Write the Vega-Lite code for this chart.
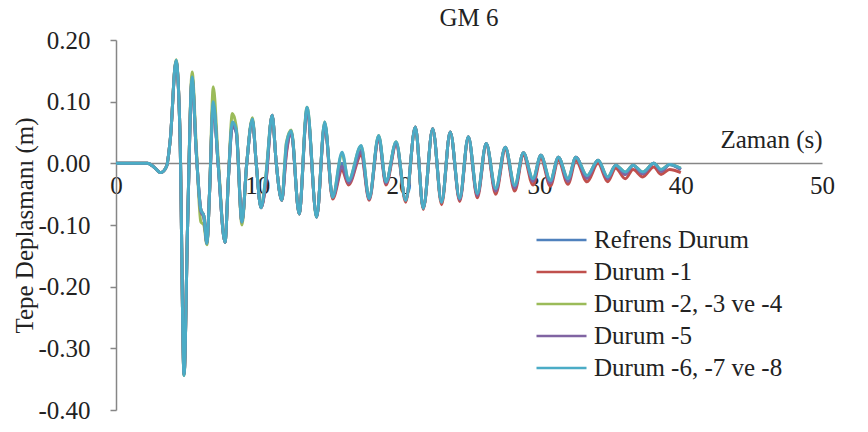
{
  "$schema": "https://vega.github.io/schema/vega-lite/v6.json",
  "width": 706,
  "height": 370,
  "autosize": {"type": "none"},
  "padding": {"left": 116, "top": 40, "right": 46, "bottom": 22},
  "background": "white",
  "config": {"view": {"stroke": null}, "font": "Liberation Serif"},
  "title": {"text": "GM 6", "fontSize": 25, "font": "Liberation Serif", "fontWeight": "normal", "color": "#222222", "offset": -3, "frame": "group"},
  "data": {"values": [
    {"t":0,"a":0,"b":0,"c":0,"d":0,"e":0},
    {"t":1.15,"a":0,"b":0,"c":0,"d":0,"e":0},
    {"t":2.23,"a":0,"b":0,"c":0,"d":0,"e":0},
    {"t":2.64,"a":-0.005,"b":-0.005,"c":-0.005,"d":-0.005,"e":-0.005},
    {"t":3.18,"a":-0.015,"b":-0.015,"c":-0.015,"d":-0.015,"e":-0.015},
    {"t":3.58,"a":-0.005,"b":-0.005,"c":-0.005,"d":-0.005,"e":-0.005},
    {"t":3.85,"a":0.04,"b":0.04,"c":0.04,"d":0.04,"e":0.04},
    {"t":4.25,"a":0.165,"b":0.166,"c":0.168,"d":0.165,"e":0.167},
    {"t":4.53,"a":0.05,"b":0.05,"c":0.05,"d":0.05,"e":0.05},
    {"t":4.82,"a":-0.342,"b":-0.343,"c":-0.344,"d":-0.342,"e":-0.344},
    {"t":5.07,"a":-0.1,"b":-0.1,"c":-0.1,"d":-0.1,"e":-0.1},
    {"t":5.39,"a":0.138,"b":0.14,"c":0.148,"d":0.136,"e":0.14},
    {"t":5.68,"a":0.02,"b":0.02,"c":0.03,"d":0.02,"e":0.02},
    {"t":6.01,"a":-0.075,"b":-0.075,"c":-0.095,"d":-0.078,"e":-0.075},
    {"t":6.22,"a":-0.085,"b":-0.085,"c":-0.1,"d":-0.088,"e":-0.085},
    {"t":6.44,"a":-0.13,"b":-0.13,"c":-0.132,"d":-0.13,"e":-0.13},
    {"t":6.62,"a":-0.05,"b":-0.05,"c":-0.05,"d":-0.05,"e":-0.05},
    {"t":6.89,"a":0.097,"b":0.1,"c":0.124,"d":0.095,"e":0.1},
    {"t":7.23,"a":0,"b":0,"c":0.01,"d":0,"e":0},
    {"t":7.72,"a":-0.128,"b":-0.128,"c":-0.128,"d":-0.128,"e":-0.128},
    {"t":7.97,"a":-0.02,"b":-0.02,"c":-0.02,"d":-0.02,"e":-0.02},
    {"t":8.24,"a":0.06,"b":0.065,"c":0.081,"d":0.06,"e":0.067},
    {"t":8.51,"a":0.052,"b":0.055,"c":0.06,"d":0.05,"e":0.055},
    {"t":8.92,"a":-0.095,"b":-0.095,"c":-0.1,"d":-0.095,"e":-0.095},
    {"t":9.26,"a":0,"b":0,"c":0,"d":0,"e":0},
    {"t":9.66,"a":0.07,"b":0.07,"c":0.074,"d":0.07,"e":0.072},
    {"t":9.93,"a":0,"b":0,"c":0,"d":0,"e":0},
    {"t":10.27,"a":-0.072,"b":-0.072,"c":-0.072,"d":-0.072,"e":-0.072},
    {"t":10.61,"a":-0.028,"b":-0.033,"c":-0.02,"d":-0.03,"e":-0.022},
    {"t":11.06,"a":0.078,"b":0.078,"c":0.078,"d":0.078,"e":0.078},
    {"t":11.35,"a":0,"b":0,"c":0,"d":0,"e":0},
    {"t":11.74,"a":-0.06,"b":-0.06,"c":-0.06,"d":-0.06,"e":-0.06},
    {"t":12.07,"a":0.025,"b":0.016,"c":0.034,"d":0.02,"e":0.032},
    {"t":12.41,"a":0.052,"b":0.05,"c":0.054,"d":0.05,"e":0.053},
    {"t":12.97,"a":-0.082,"b":-0.082,"c":-0.082,"d":-0.082,"e":-0.082},
    {"t":13.53,"a":0.088,"b":0.085,"c":0.091,"d":0.085,"e":0.091},
    {"t":14.21,"a":-0.087,"b":-0.087,"c":-0.087,"d":-0.087,"e":-0.087},
    {"t":14.78,"a":0.065,"b":0.062,"c":0.067,"d":0.063,"e":0.067},
    {"t":15.34,"a":-0.055,"b":-0.058,"c":-0.055,"d":-0.055,"e":-0.055},
    {"t":16.01,"a":0,"b":-0.011,"c":0.015,"d":-0.005,"e":0.018},
    {"t":16.47,"a":-0.03,"b":-0.035,"c":-0.028,"d":-0.032,"e":-0.028},
    {"t":17.36,"a":0.022,"b":0.013,"c":0.028,"d":0.018,"e":0.029},
    {"t":17.93,"a":-0.057,"b":-0.06,"c":-0.057,"d":-0.058,"e":-0.057},
    {"t":18.60,"a":0.043,"b":0.04,"c":0.045,"d":0.042,"e":0.045},
    {"t":19.12,"a":-0.031,"b":-0.035,"c":-0.03,"d":-0.032,"e":-0.03},
    {"t":19.84,"a":0.033,"b":0.03,"c":0.035,"d":0.032,"e":0.035},
    {"t":20.52,"a":-0.06,"b":-0.063,"c":-0.06,"d":-0.06,"e":-0.06},
    {"t":21.20,"a":0.059,"b":0.059,"c":0.059,"d":0.059,"e":0.059},
    {"t":21.76,"a":-0.073,"b":-0.075,"c":-0.073,"d":-0.073,"e":-0.073},
    {"t":22.43,"a":0.056,"b":0.056,"c":0.056,"d":0.056,"e":0.056},
    {"t":23.06,"a":-0.063,"b":-0.067,"c":-0.063,"d":-0.063,"e":-0.063},
    {"t":23.67,"a":0.051,"b":0.051,"c":0.051,"d":0.051,"e":0.051},
    {"t":24.34,"a":-0.059,"b":-0.062,"c":-0.057,"d":-0.059,"e":-0.057},
    {"t":24.95,"a":0.043,"b":0.041,"c":0.043,"d":0.043,"e":0.043},
    {"t":25.59,"a":-0.052,"b":-0.056,"c":-0.049,"d":-0.052,"e":-0.049},
    {"t":26.22,"a":0.032,"b":0.03,"c":0.032,"d":0.032,"e":0.032},
    {"t":26.89,"a":-0.045,"b":-0.05,"c":-0.041,"d":-0.045,"e":-0.041},
    {"t":27.57,"a":0.026,"b":0.022,"c":0.026,"d":0.026,"e":0.026},
    {"t":28.24,"a":-0.04,"b":-0.045,"c":-0.036,"d":-0.04,"e":-0.036},
    {"t":28.85,"a":0.017,"b":0.013,"c":0.017,"d":0.017,"e":0.017},
    {"t":29.53,"a":-0.029,"b":-0.035,"c":-0.025,"d":-0.029,"e":-0.025},
    {"t":30.09,"a":0.013,"b":0.008,"c":0.013,"d":0.013,"e":0.013},
    {"t":30.76,"a":-0.032,"b":-0.037,"c":-0.028,"d":-0.032,"e":-0.028},
    {"t":31.33,"a":0.01,"b":0.005,"c":0.01,"d":0.01,"e":0.01},
    {"t":32.01,"a":-0.029,"b":-0.034,"c":-0.025,"d":-0.029,"e":-0.025},
    {"t":32.57,"a":0.01,"b":0.004,"c":0.01,"d":0.01,"e":0.01},
    {"t":33.36,"a":-0.024,"b":-0.03,"c":-0.02,"d":-0.024,"e":-0.02},
    {"t":34.14,"a":0.005,"b":0,"c":0.005,"d":0.005,"e":0.005},
    {"t":34.82,"a":-0.025,"b":-0.03,"c":-0.022,"d":-0.025,"e":-0.022},
    {"t":35.39,"a":-0.003,"b":-0.008,"c":-0.003,"d":-0.003,"e":-0.003},
    {"t":36.07,"a":-0.018,"b":-0.025,"c":-0.014,"d":-0.018,"e":-0.014},
    {"t":36.62,"a":-0.003,"b":-0.01,"c":-0.003,"d":-0.003,"e":-0.003},
    {"t":37.30,"a":-0.017,"b":-0.022,"c":-0.014,"d":-0.017,"e":-0.014},
    {"t":38.09,"a":0,"b":-0.006,"c":0,"d":0,"e":0},
    {"t":38.6,"a":-0.013,"b":-0.018,"c":-0.01,"d":-0.013,"e":-0.01},
    {"t":39.2,"a":-0.002,"b":-0.01,"c":-0.002,"d":-0.002,"e":-0.002},
    {"t":40.0,"a":-0.01,"b":-0.015,"c":-0.008,"d":-0.01,"e":-0.008}
  ]},
  "transform": [{"fold": ["a", "b", "c", "d", "e"], "as": ["s", "v"]}],
  "mark": {"type": "line", "interpolate": "monotone", "strokeWidth": 3},
  "encoding": {
    "x": {
      "field": "t", "type": "quantitative",
      "scale": {"domain": [0, 50], "nice": false, "zero": false},
      "axis": {
        "values": [0, 10, 20, 30, 40, 50],
        "offset": -247,
        "domainColor": "#868686", "domainWidth": 1.5,
        "ticks": false, "grid": false,
        "labelFont": "Liberation Serif", "labelFontSize": 25, "labelColor": "#222222",
        "labelPadding": 10, "labelFlush": false, "labelOverlap": false,
        "title": "Zaman (s)",
        "titleFont": "Liberation Serif", "titleFontSize": 25, "titleFontWeight": "normal", "titleColor": "#222222",
        "titleX": 655, "titleY": -16, "titleAlign": "center", "titleBaseline": "alphabetic"
      }
    },
    "y": {
      "field": "v", "type": "quantitative",
      "scale": {"domain": [-0.4, 0.2], "nice": false},
      "axis": {
        "values": [-0.4, -0.3, -0.2, -0.1, 0, 0.1, 0.2],
        "labelExpr": "replace(format(datum.value, '.2f'), '\u2212', '-')",
        "domainColor": "#868686", "domainWidth": 1.5,
        "tickColor": "#868686", "tickSize": 6, "tickWidth": 1.5,
        "grid": false,
        "labelFont": "Liberation Serif", "labelFontSize": 25, "labelColor": "#222222",
        "labelPadding": 20, "labelFlush": false, "labelOverlap": false,
        "title": "Tepe Deplasmanı (m)",
        "titleFont": "Liberation Serif", "titleFontSize": 25, "titleFontWeight": "normal", "titleColor": "#222222",
        "titlePadding": 0
      }
    },
    "color": {
      "field": "s", "type": "nominal",
      "scale": {"domain": ["a", "b", "c", "d", "e"], "range": ["#4F81BD", "#C0504D", "#9BBB59", "#8064A2", "#4BACC6"]},
      "legend": {
        "orient": "none", "legendX": 419, "legendY": 184,
        "title": null,
        "symbolType": "stroke", "symbolSize": 2500, "symbolStrokeWidth": 2.5,
        "labelFont": "Liberation Serif", "labelFontSize": 25, "labelColor": "#222222",
        "labelOffset": 6, "labelLimit": 0, "clipHeight": 32, "rowPadding": 0,
        "labelExpr": "datum.label == 'a' ? 'Refrens Durum' : datum.label == 'b' ? 'Durum -1' : datum.label == 'c' ? 'Durum -2, -3 ve -4' : datum.label == 'd' ? 'Durum -5' : 'Durum -6, -7 ve -8'"
      }
    }
  }
}
